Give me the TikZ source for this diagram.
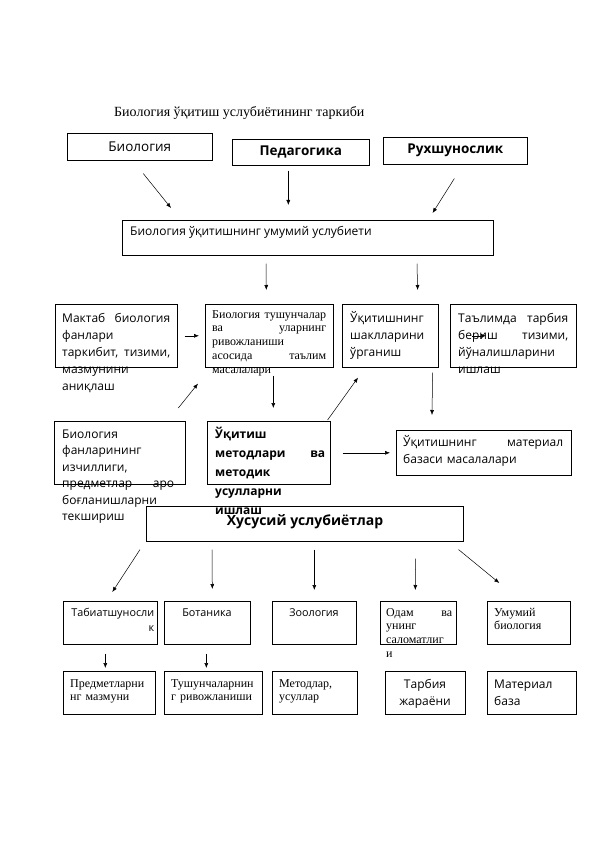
\documentclass[tikz,border=0pt]{standalone}
\usepackage{fontspec}
\setmainfont{Liberation Serif}
\setsansfont{Open Sans}
\usetikzlibrary{arrows.meta,calc}

\begin{document}
\begin{tikzpicture}[x=1pt, y=-1pt,
  box/.style={draw, line width=.6pt, inner sep=0, anchor=north west},
  sf/.style={font=\sffamily\fontsize{12}{17}\selectfont},
  sfb/.style={font=\sffamily\bfseries\fontsize{13.5}{17}\selectfont},
  rm/.style={font=\rmfamily\fontsize{12}{13.8}\selectfont},
  small/.style={font=\sffamily\fontsize{10.8}{15}\selectfont},
  txt/.style={inner sep=0, anchor=base west, align=left},
  arr/.style={-{Latex[length=5pt,width=4pt]}, line width=.5pt}]
  \useasboundingbox (0,0) rectangle (596,842);

  % title
  \node[txt, font=\rmfamily\fontsize{14}{16}\selectfont] (title) at (114,117) {Биология ўқитиш услубиётининг таркиби};

  % top row
  \node[box, font=\sffamily\fontsize{13.5}{17}\selectfont, minimum width=145pt, minimum height=27pt] (bio) at (67,133) {Биология};
  \node[box, sfb, minimum width=137pt, minimum height=26pt] (ped) at (232,139) {Педагогика};
  \node[box, sfb, minimum width=144pt, minimum height=27pt] (ruh) at (383,137) {Рухшунослик};

  \node[box, minimum width=371pt, minimum height=35pt] (umum) at (122,220) {};
  \node[txt, sf] (umum-t) at (130,236) {Биология ўқитишнинг умумий услубиети};

  % second row
  \node[box, minimum width=122pt, minimum height=63pt] (maktab) at (55,304) {};
  \node[box, minimum width=128pt, minimum height=63pt] (tush) at (205,304) {};
  \node[box, minimum width=96pt, minimum height=63pt] (shakl) at (342,304) {};
  \node[box, minimum width=126pt, minimum height=63pt] (talim) at (450,304) {};
  \node[txt, sf, text width=108pt] (maktab-t) at (62,322) {Мактаб\hfill биология\\ фанлари\\ таркибит,\hfill тизими,\\ мазмунини\\ аниқлаш};
  \node[txt, rm, text width=114pt] (tush-t) at (212,318) {Биология\hfill тушунчалар\\ ва\hfill уларнинг\\ ривожланиши\\ асосида\hfill таълим\\ масалалари};
  \node[txt, sf, text width=82pt] (shakl-t) at (350,322) {Ўқитишнинг\\ шаклларини\\ ўрганиш};
  \node[txt, sf, text width=110pt] (talim-t) at (458,322) {Таълимда\hfill тарбия\\ бериш\hfill тизими,\\ йўналишларини\\ ишлаш};

  % third row
  \node[box, minimum width=131pt, minimum height=63pt] (fan) at (54,421) {};
  \node[box, minimum width=123pt, minimum height=63pt] (metod) at (207,421) {};
  \node[box, minimum width=175pt, minimum height=45pt] (mater) at (396,430) {};
  \node[txt, font=\sffamily\fontsize{12}{16.5}\selectfont, text width=112pt] (fan-t) at (62,438) {Биология\\ фанларининг\\ изчиллиги,\\ предметлар\hfill аро\\ боғланишларни\\ текшириш};
  \node[txt, font=\sffamily\bfseries\fontsize{12}{19}\selectfont, text width=110pt] (metod-t) at (215,438) {Ўқитиш\\ методлари\hfill ва\\ методик\\ усулларни\\ ишлаш};
  \node[txt, sf, text width=160pt] (mater-t) at (403,446) {Ўқитишнинг\hfill материал\\ базаси масалалари};

  \node[box, minimum width=317pt, minimum height=35pt] (xus) at (146,506) {};
  \node[inner sep=0, anchor=base, font=\sffamily\bfseries\fontsize{14}{16}\selectfont] (xus-t) at (305,525) {Хусусий услубиётлар};

  % subjects
  \node[box, minimum width=94pt, minimum height=43pt] (tab) at (63,601) {};
  \node[box, minimum width=86pt, minimum height=43pt] (bot) at (164,601) {};
  \node[box, minimum width=84pt, minimum height=43pt] (zoo) at (272,601) {};
  \node[box, minimum width=76pt, minimum height=43pt] (odam) at (380,601) {};
  \node[box, minimum width=83pt, minimum height=43pt] (umb) at (487,601) {};
  \node[txt, align=right, small, text width=85pt] (tab-t) at (69,616) {Табиатшуносли\\ к};
  \node[inner sep=0, anchor=base, small] (bot-t) at (207,616) {Ботаника};
  \node[inner sep=0, anchor=base, small] (zoo-t) at (314,616) {Зоология};
  \node[txt, rm, text width=66pt] (odam-t) at (386,616) {Одам\hfill ва\\ унинг\\ саломатлиг\\ и};
  \node[txt, rm, text width=70pt] (umb-t) at (494,616) {Умумий\\ биология};

  \node[box, minimum width=92pt, minimum height=43pt] (pred) at (63,671) {};
  \node[box, minimum width=98pt, minimum height=43pt] (tsh) at (164,671) {};
  \node[box, minimum width=85pt, minimum height=43pt] (met) at (272,671) {};
  \node[box, minimum width=80pt, minimum height=43pt] (tar) at (385,671) {};
  \node[box, minimum width=89pt, minimum height=43pt] (mbz) at (487,671) {};
  \node[txt, rm, text width=84pt] (pred-t) at (70,687) {Предметларни\\ нг мазмуни};
  \node[txt, rm, text width=90pt] (tsh-t) at (171,687) {Тушунчаларнин\\ г ривожланиши};
  \node[txt, rm, text width=76pt] (met-t) at (279,687) {Методлар,\\ усуллар};
  \node[inner sep=0, anchor=base, align=center, sf, text width=78pt] (tar-t) at (425,688) {Тарбия\\ жараёни};
  \node[txt, sf, text width=80pt] (mbz-t) at (494,688) {Материал\\ база};

  % arrows
  \draw[arr] ($(bio.south)+(3.5,13)$) -- ($(umum.north west)+(49,-12)$);
  \draw[arr] ($(ped.south)+(-12.5,5)$) -- ($(umum.north)+(-19.5,-15)$);
  \draw[arr] ($(ruh.south)+(-1,14)$) -- ($(umum.north east)+(-61,-7)$);
  \draw[arr] ($(umum.south west)+(144,8)$) -- ($(tush.north)+(-3,-14)$);
  \draw[arr] ($(umum.south west)+(295,8)$) -- ($(shakl.north east)+(-21,-14)$);
  \draw[arr] ($(maktab.east)+(7,0)$) -- ($(tush.west)+(-6,0)$);
  \draw[arr] ($(talim.west)+(22,0)$) -- ($(talim.west)+(36,0)$);
  \draw[arr] ($(fan.north)+(58.5,-13)$) -- ($(tush.south west)+(-7,16)$);
  \draw[arr] ($(tush.south)+(4,8)$) -- ($(metod.north)+(4.5,-13)$);
  \draw[arr] ($(metod.north east)+(-3,-1)$) -- ($(shakl.south west)+(16,10)$);
  \draw[arr] ($(shakl.south east)+(-6,5)$) -- ($(mater.north west)+(36,-15)$);
  \draw[arr] ($(metod.east)+(12,0)$) -- ($(mater.west)+(-6,0)$);
  \draw[arr] ($(xus.south west)+(-6,8)$) -- ($(tab.north)+(2,-9)$);
  \draw[arr] ($(xus.south west)+(66,8)$) -- ($(bot.north)+(5,-12)$);
  \draw[arr] ($(xus.south)+(9.5,8)$) -- ($(zoo.north)+(0,-11)$);
  \draw[arr] ($(xus.south east)+(-48,17)$) -- ($(odam.north)+(-3,-11)$);
  \draw[arr] ($(xus.south east)+(-5,8)$) -- ($(umb.north)+(-29.5,-18)$);
  \draw[arr] ($(tab.south)+(-5,9)$) -- ($(pred.north)+(-4,-3)$);
  \draw[arr] ($(bot.south)+(-1,9)$) -- ($(tsh.north)+(-7,-3)$);
\end{tikzpicture}
\end{document}
